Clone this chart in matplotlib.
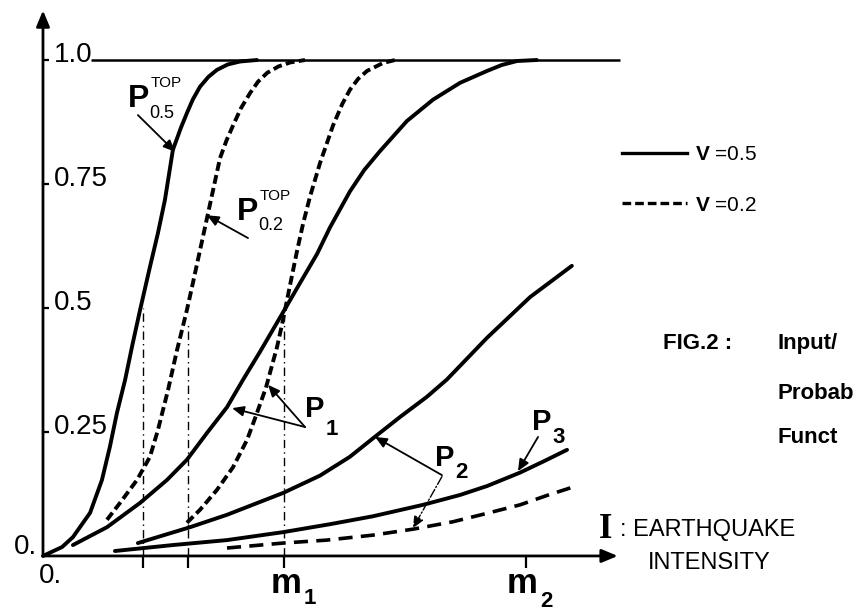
import matplotlib
matplotlib.use('Agg')
import matplotlib.pyplot as plt
from matplotlib.lines import Line2D

plt.rcParams['font.family'] = ['Liberation Sans', 'DejaVu Sans']
plt.rcParams['mathtext.fontset'] = 'custom'
plt.rcParams['mathtext.bf'] = 'Liberation Sans:bold'
plt.rcParams['mathtext.rm'] = 'Liberation Sans'

# ---------------- data (x in units of m1, y = probability) ----------------
p05_top_x = [0, 0.079, 0.124, 0.195, 0.244, 0.277, 0.306, 0.340, 0.370, 0.402, 0.443, 0.476,
             0.505, 0.538, 0.570, 0.596, 0.620, 0.650, 0.685, 0.720, 0.765, 0.816, 0.886]
p05_top_y = [0, 0.018, 0.038, 0.087, 0.153, 0.220, 0.288, 0.355, 0.425, 0.496, 0.583, 0.651,
             0.718, 0.819, 0.862, 0.893, 0.920, 0.946, 0.966, 0.980, 0.991, 0.997, 1.0]

p02_top_x = [0.265, 0.319, 0.389, 0.443, 0.476, 0.518, 0.555, 0.596, 0.617, 0.638, 0.663,
             0.692, 0.733, 0.760, 0.787, 0.820, 0.857, 0.890, 0.928, 0.975, 1.023, 1.085]
p02_top_y = [0.073, 0.107, 0.153, 0.200, 0.254, 0.335, 0.415, 0.496, 0.542, 0.589, 0.645,
             0.710, 0.802, 0.838, 0.868, 0.903, 0.933, 0.956, 0.974, 0.987, 0.995, 1.0]

p1_v05_x = [0.124, 0.265, 0.402, 0.513, 0.596, 0.679, 0.762, 0.828, 0.899, 0.983, 1.064,
            1.135, 1.188, 1.271, 1.330, 1.395, 1.507, 1.615, 1.727, 1.839, 1.900, 1.963, 2.045]
p1_v05_y = [0.022, 0.058, 0.107, 0.153, 0.194, 0.248, 0.300, 0.355, 0.412, 0.482, 0.550,
            0.609, 0.662, 0.735, 0.778, 0.816, 0.877, 0.920, 0.954, 0.978, 0.990, 0.998, 1.0]

p1_v02_x = [0.596, 0.650, 0.720, 0.787, 0.845, 0.880, 0.923, 0.969, 0.994, 1.023, 1.052,
            1.077, 1.106, 1.147, 1.201, 1.240, 1.271, 1.305, 1.342, 1.408, 1.458]
p1_v02_y = [0.067, 0.093, 0.133, 0.179, 0.234, 0.280, 0.339, 0.421, 0.476, 0.546, 0.615,
            0.670, 0.725, 0.792, 0.868, 0.912, 0.940, 0.962, 0.978, 0.994, 1.0]

p2_v05_x = [0.393, 0.609, 0.762, 0.899, 0.994, 1.147, 1.271, 1.366, 1.478, 1.590, 1.673,
            1.839, 2.017, 2.190]
p2_v05_y = [0.026, 0.058, 0.083, 0.109, 0.127, 0.162, 0.200, 0.237, 0.280, 0.321, 0.356,
            0.440, 0.522, 0.585]

p2_v02_x = [0.762, 0.994, 1.176, 1.366, 1.532, 1.698, 1.839, 1.975, 2.087, 2.195]
p2_v02_y = [0.016, 0.026, 0.032, 0.042, 0.054, 0.069, 0.086, 0.103, 0.122, 0.139]

p3_v05_x = [0.298, 0.538, 0.762, 0.994, 1.188, 1.366, 1.573, 1.727, 1.839, 1.975, 2.070, 2.170]
p3_v05_y = [0.010, 0.022, 0.032, 0.048, 0.064, 0.080, 0.103, 0.123, 0.141, 0.168, 0.190, 0.214]

# median marks (where curves reach 0.5)
median_x = [0.414, 0.600, 1.0]
median_top = [0.50, 0.47, 0.48]

x_tick_pos = [0.414, 0.600, 1.0, 2.0]
y_tick_pos = [0.25, 0.5, 0.75, 1.0]
y_tick_labels = ['0.25', '0.5', '0.75', '1.0']
legend_labels = [r'$\mathbf{V}$ =0.5', r'$\mathbf{V}$ =0.2']

# ---------------- figure ----------------
fig = plt.figure(figsize=(8.66, 6.12), dpi=100)
ax = fig.add_axes([0, 0, 1, 1])
ax.set_xlim(-0.178, 3.408)
ax.set_ylim(-0.113, 1.121)
ax.axis('off')

K = 'black'
ax.annotate('', xy=(2.38, 0), xytext=(0, 0),
            arrowprops=dict(arrowstyle='-|>,head_length=0.6,head_width=0.25',
                            mutation_scale=16, lw=2.0, color=K, shrinkA=0, shrinkB=0))
ax.annotate('', xy=(0, 1.10), xytext=(0, 0),
            arrowprops=dict(arrowstyle='-|>,head_length=0.6,head_width=0.25',
                            mutation_scale=16, lw=2.0, color=K, shrinkA=0, shrinkB=0))
ax.hlines(y_tick_pos, 0, 0.025, color=K, lw=1.6)
ax.vlines(x_tick_pos, -0.024, 0, color=K, lw=1.6)
ax.hlines(1.0, 0.20, 2.39, color=K, lw=1.8)

ax.vlines(median_x, 0, median_top, color=K, lw=1.0, linestyles=(0, (6, 3, 1, 3)))

solid = dict(color=K, lw=2.8, solid_capstyle='round', solid_joinstyle='round')
dashed = dict(color=K, lw=2.8, linestyle=(0, (2.3, 1.1)))
ax.plot(p05_top_x, p05_top_y, **solid)
ax.plot(p02_top_x, p02_top_y, **dashed)
ax.plot(p1_v05_x, p1_v05_y, **solid)
ax.plot(p1_v02_x, p1_v02_y, **dashed)
ax.plot(p2_v05_x, p2_v05_y, **solid)
ax.plot(p3_v05_x, p3_v05_y, **solid)
ax.plot(p2_v02_x, p2_v02_y, color=K, lw=2.6, linestyle=(0, (3.9, 2.3)))

# y tick labels (inside, right of axis)
for yv, lab in zip(y_tick_pos, y_tick_labels):
    ax.text(0.045, yv + 0.010, lab, fontsize=20, ha='left', va='center')
ax.text(-0.025, 0.018, '0.', fontsize=20, ha='right', va='center')
ax.text(0.03, -0.040, '0.', fontsize=20, ha='center', va='center')

# x labels m1, m2
ax.text(1.006, -0.075, 'm', fontsize=25, fontweight='bold', ha='center', va='baseline')
ax.text(1.080, -0.097, '1', fontsize=16, fontweight='bold', ha='left', va='baseline')
ax.text(1.985, -0.075, 'm', fontsize=25, fontweight='bold', ha='center', va='baseline')
ax.text(2.060, -0.102, '2', fontsize=16, fontweight='bold', ha='left', va='baseline')

# curve labels
def plabel(x, y, sub, sup=None, xs=None, ys=None, size=23, subsize=13):
    ax.text(x, y, 'P', fontsize=size, fontweight='bold', ha='left', va='baseline')
    ax.text(xs[0], xs[1], sub, fontsize=subsize, ha='left', va='baseline',
            fontweight='bold' if sup is None else 'normal')
    if sup is not None:
        ax.text(ys[0], ys[1], sup, fontsize=11, ha='left', va='baseline')

plabel(0.352, 0.905, '0.5', 'TOP', xs=(0.442, 0.884), ys=(0.446, 0.946))
plabel(0.803, 0.677, '0.2', 'TOP', xs=(0.893, 0.657), ys=(0.897, 0.718))
plabel(1.085, 0.280, '1', xs=(1.170, 0.244), size=21, subsize=16)
plabel(1.623, 0.181, '2', xs=(1.708, 0.157), size=21, subsize=16)
plabel(2.025, 0.254, '3', xs=(2.110, 0.228), size=21, subsize=16)

def arrow(tail, head, ls='-', lw=1.3):
    ax.annotate('', xy=head, xytext=tail,
                arrowprops=dict(arrowstyle='-|>,head_length=0.5,head_width=0.22',
                                mutation_scale=14, lw=lw, color=K, linestyle=ls,
                                shrinkA=0, shrinkB=0))

arrow((0.393, 0.889), (0.547, 0.815))
arrow((0.849, 0.641), (0.679, 0.687))
arrow((1.085, 0.260), (0.783, 0.298))
arrow((1.085, 0.260), (0.932, 0.345))
arrow((1.652, 0.163), (1.375, 0.240))
arrow((1.652, 0.160), (1.532, 0.056), ls='-.', lw=1.0)
arrow((2.050, 0.240), (1.967, 0.171))

# legend
handles = [Line2D([], [], color=K, lw=2.4),
           Line2D([], [], color=K, lw=2.4, linestyle=(0, (2.6, 1.2)))]
ax.legend(handles, legend_labels, loc='center left', bbox_to_anchor=(622 / 866, 1 - 180 / 612),
          frameon=False, fontsize=15, handlelength=3.1, handletextpad=0.4,
          labelspacing=1.5, borderpad=0, borderaxespad=0)

# figure caption and axis title
ax.text(2.567, 0.429, 'FIG.2 :', fontsize=16, fontweight='bold', ha='left', va='center')
ax.text(3.043, 0.429, 'Input/', fontsize=16, fontweight='bold', ha='left', va='center')
ax.text(3.043, 0.327, 'Probab', fontsize=16, fontweight='bold', ha='left', va='center')
ax.text(3.043, 0.238, 'Funct', fontsize=16, fontweight='bold', ha='left', va='center')
ax.text(2.300, 0.054, 'I', fontsize=25, fontweight='bold', family='Liberation Serif',
        ha='left', va='center')
ax.text(2.389, 0.052, ': EARTHQUAKE', fontsize=17, ha='left', va='center')
ax.text(2.505, -0.014, 'INTENSITY', fontsize=17, ha='left', va='center')

fig.savefig('out.png', dpi=100)
